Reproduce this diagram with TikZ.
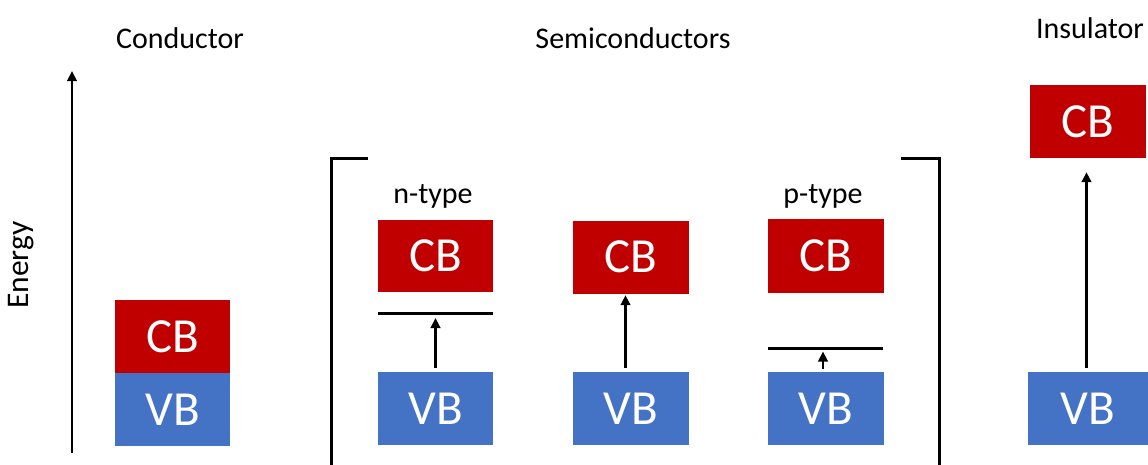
\documentclass[tikz,border=0pt]{standalone}
\usepackage{fontspec}
\setmainfont{Carlito}
\usetikzlibrary{arrows.meta}
\definecolor{cbred}{HTML}{C00000}
\definecolor{vbblue}{HTML}{4472C4}
\begin{document}
\begin{tikzpicture}[x=1pt,y=-1pt,
  band/.style={minimum width=115.5pt, minimum height=73pt, inner sep=0pt, text=white, font=\fontsize{49}{49}\selectfont},
  cbband/.style={band, fill=cbred},
  vbband/.style={band, fill=vbblue},
  title/.style={font=\fontsize{30}{31}\selectfont, inner sep=0pt},
  lvl/.style={line width=3pt},
  brk/.style={line width=3pt},
  arr/.style={line width=2.7pt, -{Triangle[width=9.5pt,length=10pt]}}]
\useasboundingbox (0,0) rectangle (1148,464);

% titles
\node[title] (tcond) at (180,38) {Conductor};
\node[title] (tsemi) at (633,38) {Semiconductors};
\node[title] (tins) at (1090,28) {Insulator};
\node[title, rotate=90, font=\fontsize{31.5}{32}\selectfont] (energy) at (21,265) {Energy};

% energy axis
\coordinate (ax0) at (72,453);
\coordinate (ax1) at (72,71);
\draw[arr] (ax0) -- (ax1);

% conductor
\node[cbband] (ccb) at (172.5,336.5) {CB};
\node[vbband] (cvb) at (172.5,409.5) {VB};

% n-type
\node[title] (tn) at (433,196) {n-type};
\node[cbband, minimum height=72pt] (ncb) at (435.5,256) {CB};
\node[vbband] (nvb) at (435.5,408.5) {VB};
\coordinate (nl0) at (378,313);
\coordinate (nl1) at (493,313);
\draw[lvl] (nl0) -- (nl1);
\coordinate (nd) at (435.5,313);
\draw[arr, shorten <=4pt, shorten >=5pt] (nvb.north) -- (nd);

% intrinsic
\node[cbband] (icb) at (631,257) {CB};
\node[vbband] (ivb) at (631,408.5) {VB};
\draw[arr, shorten <=4pt, shorten >=1.5pt] (ivb.north -| 625.5,0) -- (icb.south -| 625.5,0);

% p-type
\node[title] (tp) at (823,196) {p-type};
\node[cbband, minimum height=74pt] (pcb) at (826,256) {CB};
\node[vbband] (pvb) at (826,408.5) {VB};
\coordinate (pl0) at (768,348);
\coordinate (pl1) at (883,348);
\draw[lvl] (pl0) -- (pl1);
\coordinate (pa) at (823,348);
\draw[arr, shorten <=3pt, shorten >=3.5pt] (pvb.north -| pa) -- (pa);

% brackets
\coordinate (lb0) at (368,158);
\coordinate (lb1) at (331,158);
\coordinate (lb2) at (331,466);
\draw[brk] (lb0) -- (lb1) -- (lb2);
\coordinate (rb0) at (901,158);
\coordinate (rb1) at (939,158);
\coordinate (rb2) at (939,466);
\draw[brk] (rb0) -- (rb1) -- (rb2);

% insulator
\node[cbband] (scb) at (1088,121.5) {CB};
\node[vbband, minimum width=120pt] (svb) at (1088,408.5) {VB};
\draw[arr, shorten <=4pt, shorten >=14pt] (svb.north -| 1086.5,0) -- (scb.south -| 1086.5,0);
\end{tikzpicture}
\end{document}
